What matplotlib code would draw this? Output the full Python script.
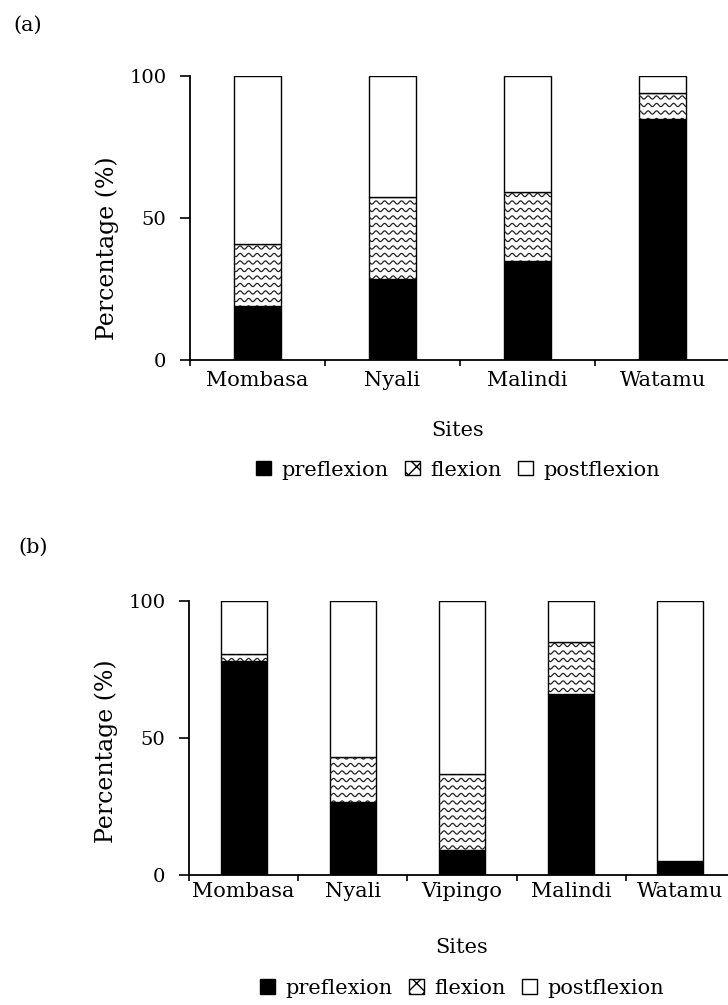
import matplotlib
matplotlib.use("Agg")
import matplotlib.pyplot as plt
import numpy as np
from matplotlib.patches import Patch

plt.rcParams['font.family'] = ['DejaVu Serif']

# panel (a)
sites_a = ['Mombasa', 'Nyali', 'Malindi', 'Watamu']
pre_a = [19, 28.5, 35, 85]
flex_a = [22, 29, 24, 9]
post_a = [59, 42.5, 41, 6]

# panel (b)
sites_b = ['Mombasa', 'Nyali', 'Vipingo', 'Malindi', 'Watamu']
pre_b = [78, 26.5, 9, 66, 5]
flex_b = [2.5, 16.5, 28, 19, 0]
post_b = [19.5, 57, 63, 15, 95]

W, H = 728, 1005
fig = plt.figure(figsize=(W / 100, H / 100), dpi=100)


def px(x0, y0, x1, y1):
    # pixel box -> figure fraction [left, bottom, width, height]
    return [x0 / W, 1 - y1 / H, (x1 - x0) / W, (y1 - y0) / H]


def waves(ax, rect):
    # wavy hatch drawn inside a bar, clipped to it
    bb = rect.get_window_extent()
    if bb.height < 1:
        return
    inv = ax.transData.inverted()
    xs = np.arange(bb.x0 - 2, bb.x1 + 2, 0.5)
    base = np.floor(bb.y0 / 7.5) * 7.5
    for yr in np.arange(base, bb.y1 + 7.5, 7.5):
        ys = yr + 1.6 * np.sin(2 * np.pi * xs / 8.5)
        d = inv.transform(np.column_stack([xs, ys]))
        ln, = ax.plot(d[:, 0], d[:, 1], color='#222222', lw=0.9)
        ln.set_clip_path(rect)


def panel(box, sites, pre, flex, post, width, tickpad):
    ax = fig.add_axes(px(*box))
    x = np.arange(len(sites))
    ax.set_xlim(-0.5, len(sites) - 0.5)
    ax.set_ylim(0, 100)
    kw = dict(width=width, edgecolor='black', linewidth=1.0)
    ax.bar(x, pre, color='black', **kw)
    fb = ax.bar(x, flex, bottom=pre, color='white', **kw)
    ax.bar(x, post, bottom=np.add(pre, flex), color='white', **kw)
    for r in fb:
        waves(ax, r)
    for s in ['top', 'right']:
        ax.spines[s].set_visible(False)
    for s in ['left', 'bottom']:
        ax.spines[s].set_linewidth(1.3)
    ax.set_yticks([0, 50, 100])
    ax.tick_params(axis='y', length=7, width=1.2, pad=10, labelsize=14)
    ax.set_xticks(np.arange(len(sites) + 1) - 0.5)
    ax.set_xticklabels([])
    ax.tick_params(axis='x', length=4, width=1.2)
    ax.set_xticks(x, minor=True)
    ax.set_xticklabels(sites, minor=True, fontsize=15)
    ax.tick_params(axis='x', which='minor', length=0, pad=tickpad)
    return ax


ax_a = panel((190, 76, 730, 360), sites_a, pre_a, flex_a, post_a, 0.35, 8)
ax_b = panel((189, 601, 735, 875), sites_b, pre_b, flex_b, post_b, 0.42, 5)

fig.text(13 / W, 1 - 25 / H, '(a)', fontsize=15, va='center', ha='left')
fig.text(18 / W, 1 - 547 / H, '(b)', fontsize=15, va='center', ha='left')

fig.text(107 / W, 1 - 248 / H, 'Percentage (%)', fontsize=17, rotation=90,
         va='center', ha='center')
fig.text(106 / W, 1 - 751 / H, 'Percentage (%)', fontsize=17, rotation=90,
         va='center', ha='center')

fig.text(458 / W, 1 - 430 / H, 'Sites', fontsize=15, va='center', ha='center')
fig.text(462 / W, 1 - 947 / H, 'Sites', fontsize=15, va='center', ha='center')

handles = [Patch(facecolor='black', edgecolor='black', label='preflexion'),
           Patch(facecolor='white', edgecolor='black', hatch='xx', label='flexion'),
           Patch(facecolor='white', edgecolor='black', label='postflexion')]
for cx, cy in [(458, 470), (462, 988)]:
    fig.legend(handles=handles, loc='center', bbox_to_anchor=(cx / W, 1 - cy / H),
               ncol=3, frameon=False, fontsize=15, handlelength=0.7,
               handleheight=0.7, handletextpad=0.5, columnspacing=0.8,
               borderpad=0, borderaxespad=0)

fig.savefig('out.png', dpi=100)
